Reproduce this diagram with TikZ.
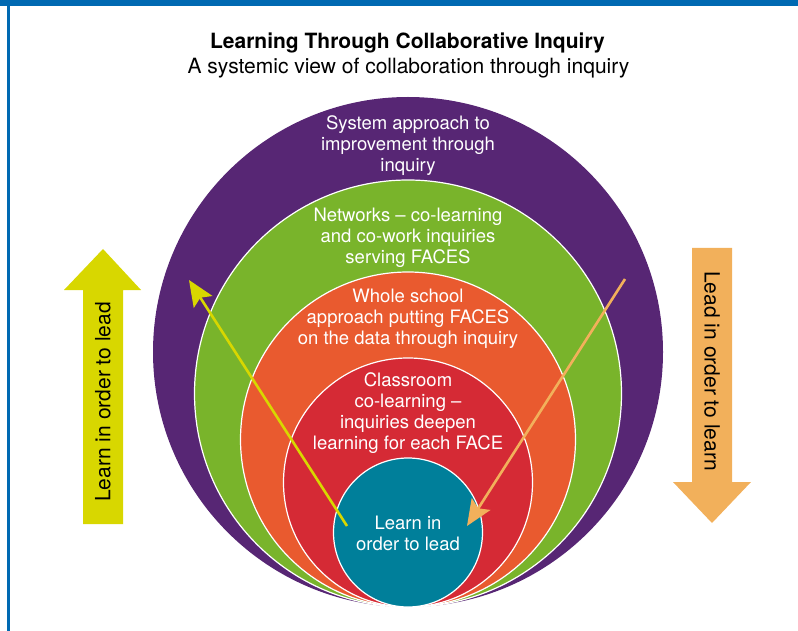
\documentclass[tikz,border=0pt]{standalone}
\usepackage{fontspec}
\setmainfont{TeX Gyre Heros}
\usetikzlibrary{arrows.meta}
\definecolor{cpurple}{RGB}{87,38,116}
\definecolor{cgreen}{RGB}{121,180,43}
\definecolor{corange}{RGB}{233,90,47}
\definecolor{cred}{RGB}{213,42,53}
\definecolor{cteal}{RGB}{0,127,154}
\definecolor{cyellow}{RGB}{216,215,0}
\definecolor{clight}{RGB}{242,176,91}
\definecolor{cblue}{RGB}{0,105,178}
\tikzset{
  ring/.style={draw=white, line width=1.2pt},
  ctext/.style={text=white, align=center, font=\fontsize{18.5}{21}\selectfont, inner sep=0pt},
  bigtext/.style={text=black, font=\fontsize{21}{24}\selectfont, inner sep=0pt},
  thinarrow/.style={line width=2.6pt, -{Stealth[length=26pt,width=22pt,inset=5pt]}},
}
\begin{document}
\begin{tikzpicture}[x=1pt,y=-1pt]
\useasboundingbox (0,0) rectangle (798,631);
% frame
\fill[cblue] (0,0) rectangle (798,6.5);
\fill[cblue] (7,0) rectangle (10,631);
% titles
\node[font=\bfseries\fontsize{21}{24}\selectfont, inner sep=0pt] (title) at (407.5,42.5) {Learning Through Collaborative Inquiry};
\node[font=\fontsize{21}{24}\selectfont, inner sep=0pt] (subtitle) at (408.5,68) {A systemic view of collaboration through inquiry};
% circles
\fill[cpurple] (408,352) circle (255);
\filldraw[cgreen, ring] (408,393.5) circle (213.5);
\filldraw[corange, ring] (408,439.5) circle (167.5);
\filldraw[cred, ring] (408,482.5) circle (124.5);
\filldraw[cteal, ring] (408,532.5) circle (74.5);
% circle texts
\node[ctext] (system) at (408,146) {System approach to\\improvement through\\inquiry};
\node[ctext] (networks) at (408,238) {Networks -- co-learning\\and co-work inquiries\\serving FACES};
\node[ctext] (whole) at (408,319) {Whole school\\approach putting FACES\\on the data through inquiry};
\node[ctext] (classroom) at (408,413) {Classroom\\co-learning --\\inquiries deepen\\learning for each FACE};
\node[ctext] (learnlead) at (408,533) {Learn in\\order to lead};
% big arrows
\fill[cyellow] (83,524) -- (83,290) -- (64,290) -- (103,249) -- (141,290) -- (123,290) -- (123,524) -- cycle;
\node[bigtext, rotate=90] (leftlabel) at (103,402) {Learn in order to lead};
\fill[clight] (692,248) -- (692,482) -- (673,482) -- (712,523) -- (751,482) -- (732,482) -- (732,248) -- cycle;
\node[bigtext, rotate=-90] (rightlabel) at (712,371) {Lead in order to learn};
% thin arrows
\coordinate (ys) at (347,526);
\coordinate (ye) at (189,280);
\coordinate (os) at (625,279);
\coordinate (oe) at (467,526);
\draw[thinarrow, cyellow] (ys) -- (ye);
\draw[thinarrow, clight] (os) -- (oe);
\end{tikzpicture}
\end{document}
